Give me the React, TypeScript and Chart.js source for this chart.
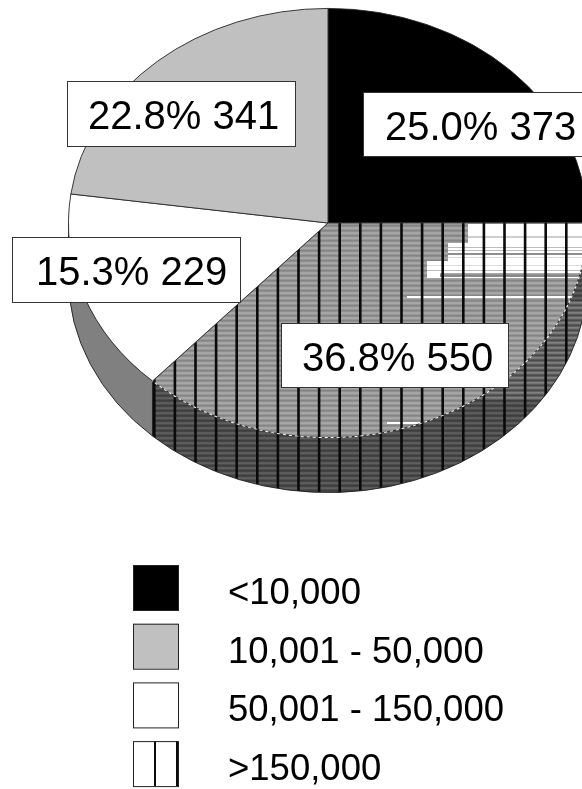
import React, { useEffect, useRef } from "react";
import { Chart, registerables } from "chart.js";

Chart.register(...registerables);

// Slices, clockwise from twelve o'clock
const sliceNames = ["<10,000", ">150,000", "50,001 - 150,000", "10,001 - 50,000"];
const sliceCounts = [373, 550, 229, 341];
const legendOrder = [0, 3, 2, 1];

const FONT = '"Liberation Sans", Arial, sans-serif';
const TILT = 215 / 260;
const DEPTH = 55;
const CANVAS_W = 600;
const CANVAS_H = 789;
const CENTER_Y = 223;

// Where each slice's value box sits, in slice order
const valueBoxes = [
  { x: 363, y: 92, w: 240, h: 64, pad: 22 },
  { x: 281, y: 323, w: 227, h: 64, pad: 21 },
  { x: 12, y: 237, w: 228, h: 65, pad: 24 },
  { x: 67, y: 81, w: 228, h: 65, pad: 21 },
];

const legendBox = { x: 133, y: 565, size: 45, step: 58.7, textX: 228 };

function verticalRules(g: CanvasRenderingContext2D, w: number, h: number) {
  g.fillStyle = "#0a0a0a";
  for (let x = 153; x < w; x += 20.6) g.fillRect(x, 0, 2.6, h);
}

// Coarsely scanned hatch fill for the top face of the largest slice
function makeTopTexture() {
  const c = document.createElement("canvas");
  c.width = CANVAS_W;
  c.height = CANVAS_H;
  const g = c.getContext("2d")!;
  const band = ["#858585", "#8f8f8f", "#a4a4a4", "#a8a8a8", "#969696"];
  for (let y = 0; y < CANVAS_H; y++) {
    g.fillStyle = band[y % 5];
    g.fillRect(0, y, CANVAS_W, 1);
  }
  g.fillStyle = "#fff";
  g.fillRect(468, 224, CANVAS_W, 19);
  g.fillRect(448, 243, CANVAS_W, 18);
  g.fillRect(427, 261, CANVAS_W, 12);
  g.fillRect(427, 273, 13, 5);
  g.fillRect(440, 277, CANVAS_W, 1);
  g.fillRect(407, 296, CANVAS_W, 2);
  g.fillRect(387, 422, 33, 2);
  const rows: [number, number, number, string][] = [
    [468, 236, 2, "#cfcfcf"],
    [448, 247, 1, "#bcbcbc"],
    [448, 250, 1, "#bcbcbc"],
    [448, 253, 2, "#8e8e8e"],
    [448, 257, 1, "#d8d8d8"],
    [427, 265, 1, "#dddddd"],
    [427, 270, 1, "#bbbbbb"],
  ];
  rows.forEach(([x, y, h, col]) => {
    g.fillStyle = col;
    g.fillRect(x, y, CANVAS_W, h);
  });
  verticalRules(g, CANVAS_W, CANVAS_H);
  return c;
}

// The same hatch in shadow for the rim
function makeRimTexture() {
  const c = document.createElement("canvas");
  c.width = CANVAS_W;
  c.height = CANVAS_H;
  const g = c.getContext("2d")!;
  const band = ["#3e3e3e", "#444444", "#5a5a5a", "#5e5e5e", "#4c4c4c"];
  const lightBand = ["#4a4a4a", "#606060", "#808080", "#747474", "#5a5a5a"];
  for (let y = 0; y < CANVAS_H; y++) {
    g.fillStyle = band[y % 5];
    g.fillRect(0, y, CANVAS_W, 1);
    g.fillStyle = lightBand[y % 5];
    if (y > 300 && y < 400) g.fillRect(500 - (y - 300) * 0.6, y, CANVAS_W, 1);
  }
  verticalRules(g, CANVAS_W, CANVAS_H);
  return c;
}

export default function App() {
  const ref = useRef<HTMLCanvasElement>(null);

  useEffect(() => {
    const ctx = ref.current!.getContext("2d")!;
    const topFill = ctx.createPattern(makeTopTexture(), "no-repeat")!;
    const rimFill = ctx.createPattern(makeRimTexture(), "no-repeat")!;
    const rimColors = ["#000000", rimFill, "#808080", "#8f8f8f"];

    const tiltedPie = {
      id: "tiltedPie",
      beforeDatasetsDraw(chart: any) {
        const g = chart.ctx;
        const arcs = chart.getDatasetMeta(0).data;
        const shift = CENTER_Y - arcs[0].y * TILT;
        g.save();
        g.transform(1, 0, 0, TILT, 0, shift);
        // Keep both textures registered to canvas pixels despite the squash
        const toPixels = new DOMMatrix([1, 0, 0, 1 / TILT, 0, -shift / TILT]);
        topFill.setTransform(toPixels);
        rimFill.setTransform(toPixels);

        const wall = DEPTH / TILT;
        arcs.forEach((arc: any, i: number) => {
          const from = Math.max(arc.startAngle, 0);
          const to = Math.min(arc.endAngle, Math.PI);
          if (to <= from) return;
          g.beginPath();
          g.arc(arc.x, arc.y, arc.outerRadius, from, to);
          g.arc(arc.x, arc.y + wall, arc.outerRadius, to, from, true);
          g.closePath();
          g.fillStyle = rimColors[i];
          g.fill();
          g.strokeStyle = "#222";
          g.lineWidth = 1;
          g.stroke();
        });
      },
      afterDatasetsDraw(chart: any) {
        const g = chart.ctx;
        const arc = chart.getDatasetMeta(0).data[1];
        // Broken light seam where the hatched face meets its rim
        g.beginPath();
        g.arc(arc.x, arc.y, arc.outerRadius, arc.startAngle, arc.endAngle);
        g.setLineDash([3, 3]);
        g.strokeStyle = "#f4f4f4";
        g.lineWidth = 1.2;
        g.stroke();
        g.setLineDash([]);
        g.restore();
      },
    };

    const valueLabels = {
      id: "valueLabels",
      afterDraw(chart: any) {
        const g = chart.ctx;
        const counts: number[] = chart.data.datasets[0].data;
        const total = counts.reduce((a, b) => a + b, 0);
        g.save();
        counts.forEach((count, i) => {
          const b = valueBoxes[i];
          g.fillStyle = "#fff";
          g.fillRect(b.x, b.y, b.w, b.h);
          g.strokeStyle = "#333";
          g.lineWidth = 1;
          g.strokeRect(b.x + 0.5, b.y + 0.5, b.w, b.h);
          g.fillStyle = "#000";
          g.font = `40px ${FONT}`;
          g.textBaseline = "alphabetic";
          g.fillText(`${((count / total) * 100).toFixed(1)}% ${count}`, b.x + b.pad, b.y + 48);
        });
        g.restore();
      },
    };

    const swatchLegend = {
      id: "swatchLegend",
      afterDraw(chart: any) {
        const g = chart.ctx;
        const fills = chart.data.datasets[0].backgroundColor;
        g.save();
        legendOrder.forEach((slice, row) => {
          const x = legendBox.x;
          const y = legendBox.y + row * legendBox.step;
          const s = legendBox.size;
          if (fills[slice] === topFill) {
            g.fillStyle = "#fff";
            g.fillRect(x, y, s, s);
            g.fillStyle = "#0a0a0a";
            g.fillRect(x + 21, y, 2, s);
            g.fillRect(x + 43, y, 2, s);
          } else {
            g.fillStyle = fills[slice];
            g.fillRect(x, y, s, s);
          }
          g.strokeStyle = "#222";
          g.lineWidth = 1;
          g.strokeRect(x + 0.5, y + 0.5, s, s);
          g.fillStyle = "#000";
          g.font = `36.5px ${FONT}`;
          g.textBaseline = "alphabetic";
          g.fillText(sliceNames[slice], legendBox.textX, y + 39);
        });
        g.restore();
      },
    };

    const chart = new Chart(ctx, {
      type: "pie",
      data: {
        labels: sliceNames,
        datasets: [
          {
            data: sliceCounts,
            backgroundColor: ["#000000", topFill, "#ffffff", "#c0c0c0"],
            borderColor: "#2a2a2a",
            borderWidth: 1,
          },
        ],
      },
      options: {
        responsive: false,
        animation: false,
        layout: { padding: { left: 68, right: 12, top: 0, bottom: CANVAS_H - 520 } },
        plugins: { legend: { display: false }, tooltip: { enabled: false } },
      },
      plugins: [tiltedPie, valueLabels, swatchLegend],
    });
    return () => chart.destroy();
  }, []);

  return (
    <div style={{ position: "absolute", left: 0, top: 0, width: 582, height: CANVAS_H, overflow: "hidden", background: "#fff" }}>
      <canvas ref={ref} width={CANVAS_W} height={CANVAS_H} style={{ display: "block" }} />
    </div>
  );
}
